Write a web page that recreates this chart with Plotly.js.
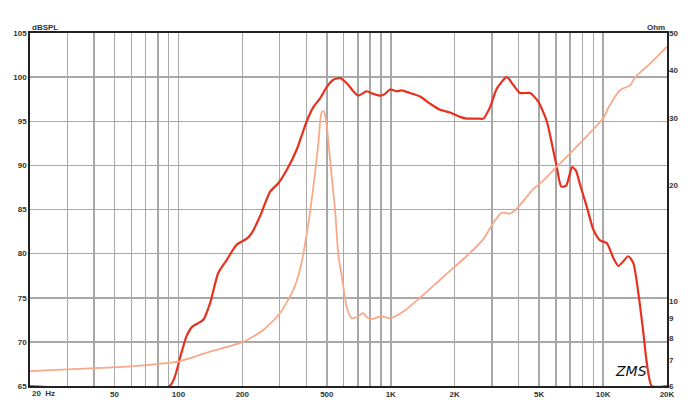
<!DOCTYPE html>
<html>
<head>
<meta charset="utf-8">
<script src="https://cdn.plot.ly/plotly-3.0.1.min.js"></script>
<style>html,body{margin:0;padding:0;background:#fff;}#chart{width:693px;height:408px;}</style>
</head>
<body>
<div id="chart"></div>
<script>
// SPL response (Hz, dBSPL)
const splFreq = [20, 91, 102, 109, 116, 131, 141, 154, 169, 188, 210, 221, 242, 270, 296, 324, 361, 402, 432, 465, 500, 537, 577, 621, 667, 704, 771, 828, 891, 940, 993, 1068, 1127, 1233, 1374, 1531, 1707, 1902, 2120, 2280, 2542, 2731, 2936, 3158, 3520, 3780, 4066, 4532, 4960, 5432, 5734, 6054, 6350, 6700, 7150, 7450, 7794, 8382, 9004, 9680, 10410, 11180, 11806, 13160, 13892, 14666, 15484, 16068, 16960, 20000];
const splDb   = [65, 65, 68.3, 70.6, 71.7, 72.5, 74.4, 77.8, 79.3, 81.0, 81.7, 82.3, 84.2, 87.0, 88.0, 89.5, 91.8, 95.0, 96.6, 97.6, 98.9, 99.7, 99.9, 99.3, 98.4, 97.9, 98.4, 98.1, 97.9, 98.1, 98.6, 98.4, 98.5, 98.2, 97.8, 97.0, 96.3, 96.0, 95.5, 95.3, 95.3, 95.3, 96.6, 98.7, 100.0, 99.1, 98.2, 98.2, 97.2, 95.0, 92.5, 89.8, 87.6, 87.7, 89.8, 89.4, 87.8, 85.3, 82.7, 81.5, 81.2, 79.5, 78.6, 79.7, 78.9, 75.5, 71.0, 67.6, 65, 65];

// Impedance (Hz, Ohm)
const impFreq = [20, 43, 60, 82, 100, 141, 202, 251, 301, 348, 374, 395, 432, 456, 473, 485, 500, 518, 547, 567, 588, 621, 655, 700, 740, 775, 814, 860, 907, 993, 1147, 1374, 1707, 1972, 2280, 2731, 3044, 3334, 3648, 3922, 4696, 5234, 6054, 7794, 10032, 10594, 12026, 13406, 14152, 16650, 19958];
const impOhm  = [6.56, 6.69, 6.75, 6.86, 6.95, 7.38, 7.82, 8.40, 9.29, 10.7, 12.1, 14.1, 19.8, 25.8, 31.1, 31.2, 28.5, 23.3, 17.2, 13.1, 11.6, 9.62, 9.02, 9.1, 9.3, 9.05, 8.96, 9.05, 9.11, 9.02, 9.39, 10.2, 11.36, 12.2, 13.1, 14.5, 16.0, 17.0, 16.9, 17.4, 19.6, 20.6, 22.4, 25.8, 30.0, 31.9, 35.5, 36.5, 38.3, 41.6, 46.0];

// Axis ticks
const xGridVals = [20,30,40,50,60,70,80,90,100,200,300,400,500,600,700,800,900,1000,2000,3000,4000,5000,6000,7000,8000,9000,10000,20000];
const xGridText = ['','','','50','','','','','100','200','','','500','','','','','1K','2K','','','5K','','','','','10K','20K'];
const yLeftVals = [65,70,75,80,85,90,95,100,105];
const yRightVals = [6,7,8,9,10,20,30,40,50];

const tickFont = {family: 'Liberation Sans, Arial, sans-serif', size: 8, color: '#333', weight: 'bold'};

const traces = [
  {x: impFreq, y: impOhm, yaxis: 'y2', type: 'scatter', mode: 'lines',
   line: {color: '#f8a98a', width: 1.8, shape: 'spline', smoothing: 0.6}, hoverinfo: 'skip'},
  {x: splFreq, y: splDb, type: 'scatter', mode: 'lines',
   line: {color: '#e8301e', width: 2.2, shape: 'spline', smoothing: 0.6}, hoverinfo: 'skip'}
];

const layout = {
  width: 693, height: 408,
  margin: {l: 30, r: 26, t: 33, b: 22, pad: 0},
  paper_bgcolor: '#fff', plot_bgcolor: '#fff',
  showlegend: false,
  xaxis: {type: 'log', range: [Math.log10(20), Math.log10(20000)],
    tickmode: 'array', tickvals: xGridVals, ticktext: xGridText,
    showgrid: true, gridcolor: '#a8a8a8', gridwidth: 1.5,
    showline: true, linecolor: '#222', linewidth: 1.8, mirror: true,
    ticks: '', tickfont: tickFont, zeroline: false, fixedrange: true},
  yaxis: {range: [65, 105], tickmode: 'array', tickvals: yLeftVals,
    showgrid: true, gridcolor: '#a8a8a8', gridwidth: 1.5,
    showline: true, linecolor: '#222', linewidth: 1.8, mirror: true,
    ticks: '', tickfont: tickFont, zeroline: false, ticklabelstandoff: 0},
  yaxis2: {type: 'log', overlaying: 'y', side: 'right',
    range: [Math.log10(6), Math.log10(50)], tickmode: 'array', tickvals: yRightVals,
    ticktext: yRightVals.map(String),
    showgrid: false, showline: false, ticks: '', tickfont: tickFont, zeroline: false, ticklabelstandoff: 1},
  annotations: [
    {text: 'dBSPL', xref: 'paper', yref: 'paper', x: 0, y: 1, xanchor: 'left', yanchor: 'bottom',
     showarrow: false, font: tickFont, yshift: -1},
    {text: 'Ohm', xref: 'paper', yref: 'paper', x: 1, y: 1, xanchor: 'right', yanchor: 'bottom',
     showarrow: false, font: tickFont, yshift: -1},
    {text: '20  Hz', xref: 'paper', yref: 'paper', x: 0, y: 0, xanchor: 'left', yanchor: 'top',
     showarrow: false, font: tickFont, yshift: -1},
    {text: 'ZMS', xref: 'paper', yref: 'paper', x: 0.943, y: 0.042, xanchor: 'center', yanchor: 'middle',
     showarrow: false, font: {family: 'DejaVu Sans, sans-serif', size: 14, color: '#111', style: 'italic'}}
  ]
};

Plotly.newPlot('chart', traces, layout, {staticPlot: true, displayModeBar: false});
</script>
</body>
</html>
